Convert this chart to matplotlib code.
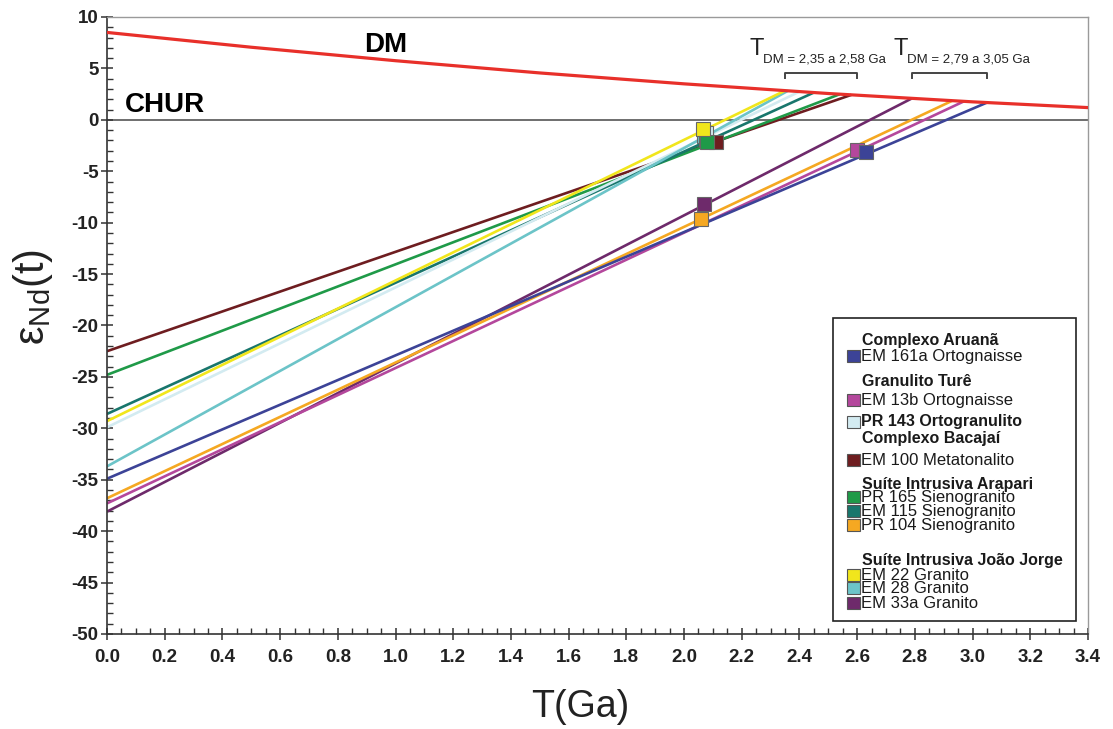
import numpy as np
import matplotlib
matplotlib.use('Agg')
from matplotlib import pyplot as plt
from matplotlib.patches import Rectangle

plt.rcParams['font.family'] = ['Liberation Sans', 'DejaVu Sans']
plt.rcParams['mathtext.fontset'] = 'custom'
plt.rcParams['mathtext.rm'] = 'Liberation Sans'
plt.rcParams['mathtext.it'] = 'Liberation Sans:italic'
plt.rcParams['axes.unicode_minus'] = False

# depleted mantle curve
dm_t = [0.0, 0.5, 1.0, 1.5, 2.0, 2.5, 3.0, 3.4]
dm_eps = [8.5, 7.06, 5.75, 4.56, 3.5, 2.56, 1.75, 1.19]

# samples
names = ['EM 161a', 'EM 13b', 'PR 143', 'EM 100', 'PR 165',
         'EM 115', 'PR 104', 'EM 22', 'EM 28', 'EM 33a']
colors = ['#3c4397', '#b4479c', '#d3ebf1', '#6e1d20', '#1f9a48',
          '#18766c', '#f5a822', '#f1e61c', '#6cc4c8', '#6e2a6b']
eps_0 = [-34.9, -37.3, -29.9, -22.5, -24.8, -28.6, -36.8, -29.3, -33.7, -38.1]
t_dm = [3.05, 2.97, 2.40, 2.58, 2.54, 2.45, 2.93, 2.35, 2.36, 2.79]
t_cryst = [2.63, 2.60, 2.077, 2.11, 2.08, 2.075, 2.06, 2.067, 2.07, 2.07]
eps_t = [-3.1, -2.9, -1.3, -2.2, -2.2, -2.0, -9.6, -0.9, -1.6, -8.2]

line_order = [3, 4, 5, 2, 8, 7, 9, 6, 1, 0]
marker_order = [3, 8, 5, 2, 4, 7, 6, 9, 1, 0]

legend_rows = [
    ('Complexo Aruanã', None, True),
    ('EM 161a Ortognaisse', 0, False),
    ('Granulito Turê', None, True),
    ('EM 13b Ortognaisse', 1, False),
    ('PR 143 Ortogranulito', 2, True),
    ('Complexo Bacajaí', None, True),
    ('EM 100 Metatonalito', 3, False),
    ('Suíte Intrusiva Arapari', None, True),
    ('PR 165 Sienogranito', 4, False),
    ('EM 115 Sienogranito', 5, False),
    ('PR 104 Sienogranito', 6, False),
    ('Suíte Intrusiva João Jorge', None, True),
    ('EM 22 Granito', 7, False),
    ('EM 28 Granito', 8, False),
    ('EM 33a Granito', 9, False),
]
legend_y = [341, 356, 382, 400, 421.5, 439, 460, 484, 497, 511, 525, 561, 574.5, 588, 603]

W, H = 1113, 729
fig = plt.figure(figsize=(W / 100, H / 100), dpi=100)
ax = fig.add_axes([107 / W, 1 - 634 / H, (1088 - 107) / W, (634 - 17) / H])


def px(x, y):
    return x / W, 1 - y / H


# CHUR
ax.axhline(0, color='#555555', lw=1.2, zorder=1)
# DM
ax.plot(dm_t, dm_eps, color='#e8302a', lw=2.3, zorder=3)

for i in line_order:
    e_dm = np.interp(t_dm[i], dm_t, dm_eps)
    ax.plot([0, t_dm[i]], [eps_0[i], e_dm], color=colors[i], lw=1.9,
            solid_capstyle='butt', zorder=2)

for i in marker_order:
    ax.plot(t_cryst[i], eps_t[i], 's', ms=10.5, mfc=colors[i], mec='#666666',
            mew=0.8, zorder=5, clip_on=False)

ax.text(0.967, 7.3, 'DM', fontsize=20, fontweight='bold', ha='center', va='center')
ax.text(0.062, 1.45, 'CHUR', fontsize=20, fontweight='bold', ha='left', va='center')

# T_DM brackets
for t0, t1, xt, sub in [(2.35, 2.60, 750, 'DM = 2,35 a 2,58 Ga'),
                        (2.79, 3.05, 894, 'DM = 2,79 a 3,05 Ga')]:
    ax.plot([t0, t0, t1, t1], [4.07, 4.58, 4.58, 4.07], color='#444444', lw=1.4)
    fig.text(*px(xt - 1, 55), 'T', fontsize=17, ha='left', va='baseline', color='#222222')
    fig.text(*px(xt + 13, 62.5), sub, fontsize=9.5, ha='left', va='baseline', color='#222222')

ax.set_xlim(0, 3.4)
ax.set_ylim(-50, 10)
ax.set_xticks(np.arange(0, 3.41, 0.2))
ax.set_xticks(np.arange(0, 3.41, 0.05), minor=True)
ax.set_yticks(np.arange(-50, 11, 5))
ax.set_yticks(np.arange(-50, 11, 1), minor=True)
ax.set_xticklabels(['%.1f' % v for v in np.arange(0, 3.41, 0.2)])
ax.tick_params(axis='both', which='major', direction='inout', length=8, width=1.1,
               labelsize=13.5, color='#333333')
ax.tick_params(axis='x', which='major', pad=7)
ax.tick_params(axis='y', which='major', pad=2)
ax.tick_params(axis='both', which='minor', direction='in', length=4, width=1.0,
               color='#333333')
for lab in ax.get_xticklabels() + ax.get_yticklabels():
    lab.set_fontweight('bold')
    lab.set_color('#222222')
for s in ['left', 'bottom']:
    ax.spines[s].set_color('#333333')
    ax.spines[s].set_linewidth(1.2)
for s in ['top', 'right']:
    ax.spines[s].set_color('#9a9a9a')
    ax.spines[s].set_linewidth(1.0)

fig.text(*px(580, 707), 'T(Ga)', fontsize=27, ha='center', va='center', color='#222222')
fig.text(*px(33, 297), 'ε$_{\\mathrm{Nd}}$(t)', fontsize=30, rotation=90,
         ha='center', va='center', color='#222222')

# legend box
lx0, ly0, lx1, ly1 = 833, 318, 1076, 621
fig.patches.append(Rectangle(px(lx0, ly1), (lx1 - lx0) / W, (ly1 - ly0) / H,
                             transform=fig.transFigure, fill=True, fc='white',
                             ec='#222222', lw=1.2, zorder=6))
for (label, ci, bold), y in zip(legend_rows, legend_y):
    if ci is None:
        fig.text(*px(862, y), label, fontsize=11.5, fontweight='bold',
                 ha='left', va='center', color='#1a1a1a', zorder=7)
    else:
        fig.patches.append(Rectangle(px(847, y + 6), 13 / W, 12 / H,
                                     transform=fig.transFigure, fc=colors[ci],
                                     ec='#555555', lw=0.8, zorder=7))
        fig.text(*px(861, y + 0.5), label, fontsize=12 if not bold else 11.5,
                 fontweight='bold' if bold else 'normal',
                 ha='left', va='center', color='#1a1a1a', zorder=7)

fig.savefig('out.png', dpi=100)
